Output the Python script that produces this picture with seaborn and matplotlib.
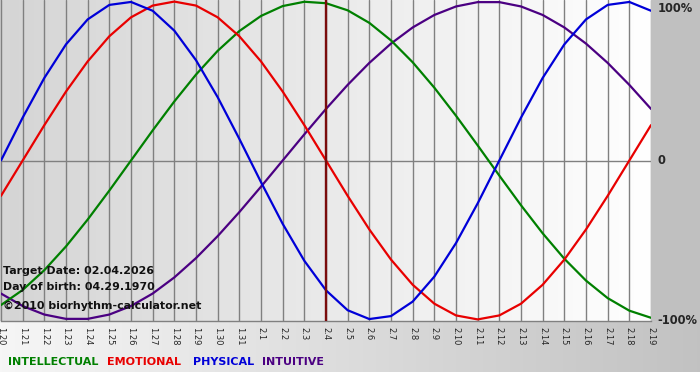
import numpy as np
import pandas as pd
import matplotlib
matplotlib.use("Agg")
import matplotlib.pyplot as plt
import seaborn as sns

# ---------------- data ----------------
tick_labels = ["1.20", "1.21", "1.22", "1.23", "1.24", "1.25", "1.26", "1.27",
               "1.28", "1.29", "1.30", "1.31", "2.1", "2.2", "2.3", "2.4",
               "2.5", "2.6", "2.7", "2.8", "2.9", "2.10", "2.11", "2.12",
               "2.13", "2.14", "2.15", "2.16", "2.17", "2.18", "2.19"]
days = list(range(len(tick_labels)))

physical = [0.0, 0.2698, 0.5196, 0.7308, 0.8879, 0.9791, 0.9977, 0.9423,
            0.8170, 0.6311, 0.3984, 0.1362, -0.1362, -0.3984, -0.6311, -0.8170,
            -0.9423, -0.9977, -0.9791, -0.8879, -0.7308, -0.5196, -0.2698, 0.0,
            0.2698, 0.5196, 0.7308, 0.8879, 0.9791, 0.9977, 0.9423]
emotional = [-0.2225, 0.0, 0.2225, 0.4339, 0.6235, 0.7818, 0.9010, 0.9749,
             1.0, 0.9749, 0.9010, 0.7818, 0.6235, 0.4339, 0.2225, 0.0,
             -0.2225, -0.4339, -0.6235, -0.7818, -0.9010, -0.9749, -1.0, -0.9749,
             -0.9010, -0.7818, -0.6235, -0.4339, -0.2225, 0.0, 0.2225]
intellectual = [-0.9096, -0.8146, -0.6901, -0.5406, -0.3717, -0.1893, 0.0, 0.1893,
                0.3717, 0.5406, 0.6901, 0.8146, 0.9096, 0.9718, 0.9989, 0.9898,
                0.9450, 0.8660, 0.7557, 0.6182, 0.4582, 0.2817, 0.0951, -0.0951,
                -0.2817, -0.4582, -0.6182, -0.7557, -0.8660, -0.9450, -0.9898]
intuitive = [-0.8372, -0.9158, -0.9694, -0.9966, -0.9966, -0.9694, -0.9158, -0.8372,
             -0.7357, -0.6142, -0.4759, -0.3247, -0.1646, 0.0, 0.1646, 0.3247,
             0.4759, 0.6142, 0.7357, 0.8372, 0.9158, 0.9694, 0.9966, 0.9966,
             0.9694, 0.9158, 0.8372, 0.7357, 0.6142, 0.4759, 0.3247]
target_index = 15
info_lines = ["Target Date: 02.04.2026", "Day of birth: 04.29.1970",
              "\u00a92010 biorhythm-calculator.net"]
series_names = ["INTUITIVE", "INTELLECTUAL", "EMOTIONAL", "PHYSICAL"]
legend_names = ["INTELLECTUAL", "EMOTIONAL", "PHYSICAL", "INTUITIVE"]
colors = {"INTELLECTUAL": "#008000", "EMOTIONAL": "#e80000",
          "PHYSICAL": "#0000d8", "INTUITIVE": "#4b0082"}

values = {"PHYSICAL": physical, "EMOTIONAL": emotional,
          "INTELLECTUAL": intellectual, "INTUITIVE": intuitive}
df = pd.concat([pd.DataFrame({"day": days, "value": values[n], "cycle": n})
                for n in series_names], ignore_index=True)

# ---------------- figure ----------------
sns.set_theme(style="white")
plt.rcParams["font.family"] = ["DejaVu Sans"]
W, H = 700, 380
fig = plt.figure(figsize=(W / 100, H / 100), dpi=100)

# figure background
bg = np.ones((H, W, 3))
bg[:321, :, :] = 0.753
gx = np.linspace(0.965, 0.76, W)
bg[321:372, :, :] = gx[None, :, None]
bgax = fig.add_axes([0, 0, 1, 1], zorder=-5)
bgax.imshow(bg, aspect="auto", extent=[0, W, H, 0])
bgax.set_axis_off()

# plot area: x 1..651 px, y 0..321 px
ax = fig.add_axes([1 / W, 1 - 321 / H, 650 / W, 321 / H])
grad = np.linspace(0.835, 1.0, 300)
ax.imshow(np.repeat(grad[None, :, None], 3, axis=2), aspect="auto",
          extent=[0, 30, -1.01, 1.01], zorder=0)

for x in days:
    ax.axvline(x, color="#808080", lw=1.0, zorder=1)
ax.axhline(0, color="#808080", lw=1.0, zorder=1)

sns.lineplot(data=df, x="day", y="value", hue="cycle", palette=colors,
             hue_order=series_names, linewidth=1.6, legend=False, ax=ax,
             zorder=3)
for ln in ax.get_lines():
    ln.set_solid_joinstyle("round")
ax.axvline(days[target_index], color="#7a0c0c", lw=1.7, zorder=4)

ax.set_xlim(0, 30)
ax.set_ylim(-1.01, 1.01)
ax.set_xticks(days)
ax.set_xticklabels(tick_labels, rotation=270, fontsize=6.0)
ax.tick_params(axis="x", length=3, width=1, color="#808080", pad=1.5)
ax.set_yticks([])
ax.set_xlabel("")
ax.set_ylabel("")
for s in ["left", "right", "top"]:
    ax.spines[s].set_visible(False)
ax.spines["bottom"].set_color("#808080")
ax.spines["bottom"].set_linewidth(1.0)

def fx(px):
    return px / W

def fy(py):
    return 1 - py / H

# right-side value labels
fig.text(fx(658), fy(8), "100%", fontsize=8.3, fontweight="bold",
         va="center", ha="left")
fig.text(fx(658), fy(161), "0", fontsize=8.3, fontweight="bold",
         va="center", ha="left")
fig.text(fx(657), fy(321), "-100%", fontsize=8.3, fontweight="bold",
         va="center", ha="left")

# info text
for t, py in zip(info_lines, [271, 287, 306]):
    fig.text(fx(3), fy(py), t, fontsize=7.9, fontweight="bold",
             va="center", ha="left", color="#111111", zorder=10)

# legend text
for name, px in zip(legend_names, [8, 107, 193, 262]):
    fig.text(fx(px), fy(362), name, fontsize=8.0, fontweight="bold",
             va="center", ha="left", color=colors[name])

fig.savefig("out.png", dpi=100)
